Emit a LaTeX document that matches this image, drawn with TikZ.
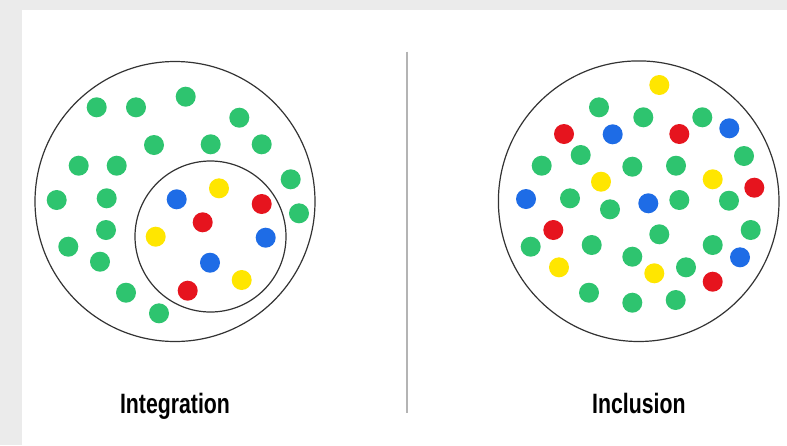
\documentclass[tikz,border=0pt]{standalone}
\usepackage{fontspec}
\newfontfamily\labelfont{Liberation Sans}[FakeStretch=0.76]
\definecolor{bggray}{HTML}{EBEBEB}
\definecolor{dgreen}{HTML}{2EC46F}
\definecolor{dred}{HTML}{E6141E}
\definecolor{dblue}{HTML}{1E6CE6}
\definecolor{dyellow}{HTML}{FFE600}
\definecolor{ringc}{HTML}{333333}
\definecolor{divc}{HTML}{B4B4B4}
\tikzset{
  ring/.style={draw=ringc, line width=1.2pt},
  lbl/.style={font=\labelfont\bfseries\fontsize{28}{32}\selectfont, text=black, inner sep=0pt, anchor=base},
}
\newcommand{\gdot}[2]{\fill[dgreen] (#1,#2) circle (10);}
\newcommand{\rdot}[2]{\fill[dred] (#1,#2) circle (10);}
\newcommand{\bdot}[2]{\fill[dblue] (#1,#2) circle (10);}
\newcommand{\ydot}[2]{\fill[dyellow] (#1,#2) circle (10);}
\begin{document}
\begin{tikzpicture}[x=1pt,y=-1pt]
\useasboundingbox (0,0) rectangle (787,445);
\fill[bggray] (0,0) rectangle (787,445);
\fill[white] (22,10) rectangle (787,445);
% left outer and inner circles
\draw[ring] (175,201.5) circle (140);
\draw[ring] (210.5,236.5) circle (75.5);
% left green dots
\gdot{96.7}{107.3}
\gdot{136}{107.3}
\gdot{185.7}{96.7}
\gdot{239.3}{117.7}
\gdot{154}{145}
\gdot{210.7}{144.3}
\gdot{261.7}{144.3}
\gdot{78.7}{165.7}
\gdot{116.7}{165.7}
\gdot{290.7}{179.3}
\gdot{56.7}{200}
\gdot{106.7}{198.3}
\gdot{299}{213.3}
\gdot{106}{230}
\gdot{68.3}{246.7}
\gdot{100}{261.7}
\gdot{126}{292.7}
\gdot{159}{313.3}
% inner dots
\bdot{176.7}{199.3}
\ydot{219}{188.3}
\rdot{261.7}{204}
\rdot{202.7}{222.3}
\ydot{155.7}{236.7}
\bdot{265.7}{237.7}
\bdot{210}{262.7}
\ydot{241.7}{280}
\rdot{187.7}{290.7}
% divider
\draw[divc, line width=1.6pt] (406.7,51.7) -- (406.7,413);
% right circle
\draw[ring] (638.7,201.2) circle (140.3);
\ydot{659.3}{85}
\gdot{599}{107.3}
\gdot{643.3}{117.3}
\gdot{702.3}{117.3}
\bdot{729.3}{128.3}
\rdot{564}{134}
\bdot{612.7}{134.3}
\rdot{679.3}{134}
\gdot{580.7}{155}
\gdot{744}{156}
\gdot{541.7}{165.7}
\gdot{632.3}{166.7}
\gdot{676}{165.7}
\ydot{601}{181.7}
\ydot{712.7}{179.3}
\rdot{754.3}{187.7}
\bdot{526}{199}
\gdot{570}{198.3}
\gdot{610}{209.3}
\bdot{648.3}{203.3}
\gdot{679.3}{200}
\gdot{729}{200.7}
\rdot{553.3}{230}
\gdot{659.3}{234.3}
\gdot{750.7}{230}
\gdot{530.7}{246.7}
\gdot{591.7}{245}
\gdot{712.7}{245}
\gdot{632.3}{256.7}
\bdot{740}{257.3}
\ydot{559}{267.3}
\ydot{654.3}{273.3}
\gdot{686}{267.3}
\rdot{712.7}{281.7}
\gdot{589}{292.7}
\gdot{632.3}{302.7}
\gdot{675.7}{300}
% labels
\node[lbl] (integration) at (175,413) {Integration};
\node[lbl] (inclusion) at (638.8,413) {Inclusion};
\end{tikzpicture}
\end{document}
